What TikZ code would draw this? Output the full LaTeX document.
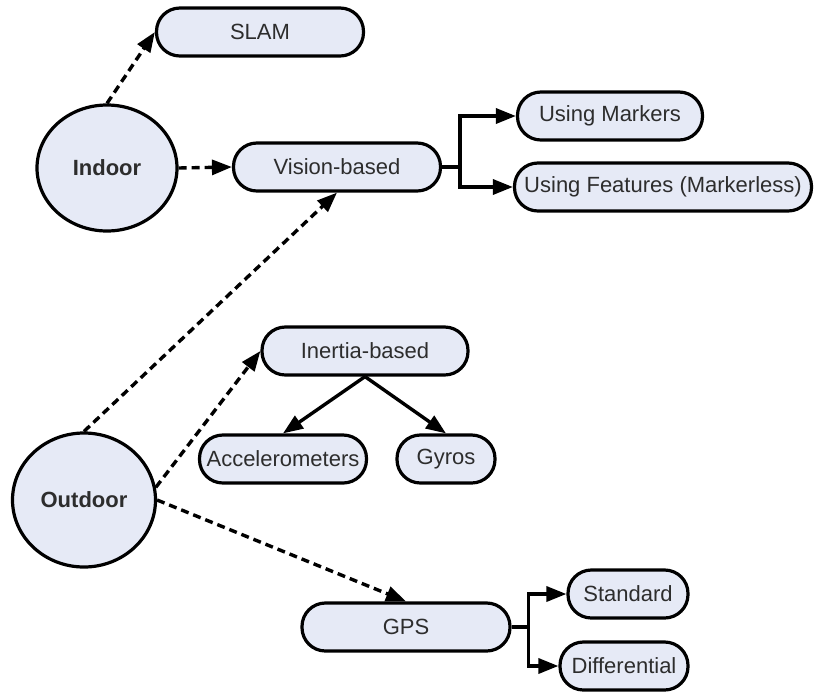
\documentclass[tikz,border=0pt]{standalone}
\usepackage{fontspec}
\setmainfont{Liberation Sans}
\usetikzlibrary{shapes.geometric,arrows.meta,calc}
\definecolor{boxfill}{RGB}{230,234,246}
\definecolor{txt}{RGB}{45,45,45}
\begin{document}
\begin{tikzpicture}[x=0.5pt,y=-0.5pt,
 box/.style={rectangle, rounded corners=11.7pt, draw=black, line width=1.6pt, fill=boxfill, minimum height=24pt, inner sep=0pt, font=\fontsize{11}{13}\selectfont, text=txt},
 blob/.style={ellipse, draw=black, line width=1.6pt, fill=boxfill, inner sep=0pt, font=\bfseries\fontsize{11}{13}\selectfont, text=txt},
 darr/.style={line width=1.7pt, dash pattern=on 4pt off 2.5pt, -{Triangle[length=10pt,width=7.5pt]}},
 sarr/.style={line width=1.7pt, -{Triangle[length=10pt,width=7.5pt]}}]
\useasboundingbox[fill=white] (0,0) rectangle (814,691);
\node[box, minimum width=103.5pt] (slam) at (260,32) {SLAM};
\node[blob, minimum width=70pt, minimum height=63pt] (indoor) at (107,168) {Indoor};
\node[box, minimum width=103.5pt] (vision) at (337,167) {Vision-based};
\node[box, minimum width=92.5pt] (markers) at (610,116) {Using Markers};
\node[box, minimum width=148.5pt] (features) at (663,187) {Using Features (Markerless)};
\node[blob, minimum width=71.5pt, minimum height=67pt] (outdoor) at (84,500) {Outdoor};
\node[box, minimum width=103pt] (inertia) at (365,351) {Inertia-based};
\node[box, minimum width=83.5pt] (accel) at (283,459) {Accelerometers};
\node[box, minimum width=49pt] (gyros) at (446,459) {Gyros};
\node[box, minimum width=104pt] (gps) at (406,627) {GPS};
\node[box, minimum width=60pt] (standard) at (628,594) {Standard};
\node[box, minimum width=64pt] (diff) at (624,666) {Differential};
% dashed connectors
\draw[darr] (indoor.north) -- (slam.west);
\draw[darr] (indoor.east) -- (vision.west);
\draw[darr] (outdoor.north) -- (vision.south);
\draw[darr] (outdoor.10) -- (inertia.west);
\draw[darr] (outdoor.east) -- (gps.north);
% solid connectors
\coordinate (vb) at ($(vision.east)+(18,0)$);
\draw[sarr] (vision.east) -- (vb) |- (markers.west);
\draw[sarr] (vb) |- (features.west);
\coordinate (gb) at ($(gps.east)+(17,0)$);
\draw[sarr] (gps.east) -- (gb) |- (standard.west);
\draw[sarr] (gb) |- (diff.west);
\draw[sarr] (inertia.south) -- (accel.north);
\draw[sarr] (inertia.south) -- (gyros.north);
\end{tikzpicture}
\end{document}
